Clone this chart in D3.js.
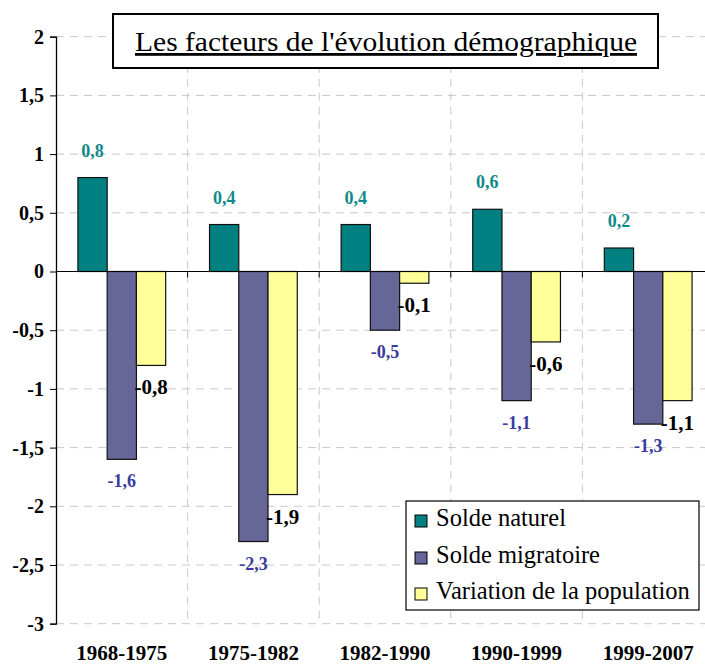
<!DOCTYPE html>
<html>
<head>
<meta charset="utf-8">
<script src="https://cdn.jsdelivr.net/npm/d3@7"></script>
<style>
  body { margin: 0; background: #fff; }
  svg { display: block; }
  svg text { font-family: "Liberation Serif", "Times New Roman", serif; }
</style>
</head>
<body>
<svg width="705" height="666"></svg>
<script>
const periods = ['1968-1975', '1975-1982', '1982-1990', '1990-1999', '1999-2007'];
const seriesNames = ['Solde naturel', 'Solde migratoire', 'Variation de la population'];
const soldeNaturel = [0.8, 0.4, 0.4, 0.53, 0.2];
const soldeMigratoire = [-1.6, -2.3, -0.5, -1.1, -1.3];
const variationPop = [-0.8, -1.9, -0.1, -0.6, -1.1];
// labels as printed on the chart
const labelsNaturel = ['0,8', '0,4', '0,4', '0,6', '0,2'];
const labelsMigratoire = ['-1,6', '-2,3', '-0,5', '-1,1', '-1,3'];
const labelsVariation = ['-0,8', '-1,9', '-0,1', '-0,6', '-1,1'];
const yTicks = [2, 1.5, 1, 0.5, 0, -0.5, -1, -1.5, -2, -2.5, -3];
const title = "Les facteurs de l'évolution démographique";

const colors = ['#008080', '#666699', '#FFFF99'];
const labelColors = ['#0f8a8a', '#3a3aa0', '#000'];
const serif = '"Liberation Serif", "Times New Roman", serif';

const svg = d3.select('svg');

const x = d3.scaleBand().domain(periods).range([56, 714]);
const y = d3.scaleLinear().domain([-3, 2]).range([623.7, 36.7]);
const barW = x.bandwidth() / 4.5;
const inner = d3.scaleBand().domain([0, 1, 2])
  .range([barW * 0.75, barW * 3.75]);

// horizontal grid
svg.append('g')
  .selectAll('line')
  .data(yTicks.filter(d => d !== 0))
  .join('line')
  .attr('x1', 56).attr('x2', 705)
  .attr('y1', d => y(d)).attr('y2', d => y(d))
  .attr('stroke', '#c8c8c8').attr('stroke-dasharray', '8,6');

// vertical grid at category boundaries
svg.append('g')
  .selectAll('line')
  .data(periods.slice(1))
  .join('line')
  .attr('x1', d => x(d)).attr('x2', d => x(d))
  .attr('y1', y(2)).attr('y2', y(-3))
  .attr('stroke', '#c8c8c8').attr('stroke-dasharray', '8,6');

// y axis
const yAxis = svg.append('g')
  .attr('transform', 'translate(56,0)')
  .call(d3.axisLeft(y).tickValues(yTicks).tickSize(6).tickPadding(6)
    .tickFormat(d => String(d).replace('.', ',')));
yAxis.select('.domain').attr('stroke', '#000').attr('stroke-width', 1.3);
yAxis.selectAll('.tick line').attr('stroke', '#000');
yAxis.selectAll('.tick text')
  .attr('font-family', serif)
  .attr('font-weight', 'bold').attr('font-size', 20).attr('fill', '#000');

// bars
const series = [soldeNaturel, soldeMigratoire, variationPop];
const labels = [labelsNaturel, labelsMigratoire, labelsVariation];
const barData = [];
series.forEach((vals, s) => {
  vals.forEach((v, i) => barData.push({ s, period: periods[i], v, label: labels[s][i] }));
});

svg.append('g')
  .selectAll('rect')
  .data(barData)
  .join('rect')
  .attr('x', d => x(d.period) + inner(d.s))
  .attr('width', barW)
  .attr('y', d => y(Math.max(0, d.v)))
  .attr('height', d => Math.abs(y(d.v) - y(0)))
  .attr('fill', d => colors[d.s])
  .attr('stroke', '#111').attr('stroke-width', 1.2);

// zero line + ticks at category boundaries
svg.append('line')
  .attr('x1', 56).attr('x2', 705)
  .attr('y1', y(0)).attr('y2', y(0))
  .attr('stroke', '#000').attr('stroke-width', 1.2);
svg.append('g')
  .selectAll('line')
  .data(periods.slice(1))
  .join('line')
  .attr('x1', d => x(d)).attr('x2', d => x(d))
  .attr('y1', y(0)).attr('y2', y(0) + 6)
  .attr('stroke', '#000');

// value labels
svg.append('g')
  .selectAll('text')
  .data(barData)
  .join('text')
  .attr('x', d => {
    const left = x(d.period) + inner(d.s);
    return d.s === 2 ? left - 2 : left + barW / 2;
  })
  .attr('y', d => {
    if (d.s === 0) return y(d.v) - 21;
    if (d.s === 1) return y(d.v) + 28;
    return y(d.v) + 29;
  })
  .attr('text-anchor', d => d.s === 2 ? 'start' : 'middle')
  .attr('font-family', serif)
  .attr('font-weight', 'bold')
  .attr('font-size', d => d.s === 2 ? 21 : 18)
  .attr('fill', d => labelColors[d.s])
  .text(d => d.label);

// x labels
svg.append('g')
  .selectAll('text')
  .data(periods)
  .join('text')
  .attr('x', d => x(d) + x.bandwidth() / 2)
  .attr('y', 660)
  .attr('text-anchor', 'middle')
  .attr('font-family', serif)
  .attr('font-weight', 'bold').attr('font-size', 21)
  .text(d => d);

// title box
svg.append('rect')
  .attr('x', 113).attr('y', 14).attr('width', 545).attr('height', 54)
  .attr('fill', '#fff').attr('stroke', '#000').attr('stroke-width', 2);
svg.append('text')
  .attr('x', 386).attr('y', 51)
  .attr('text-anchor', 'middle')
  .attr('font-family', serif)
  .attr('font-size', 28)
  .attr('text-decoration', 'underline')
  .attr('textLength', 502)
  .attr('lengthAdjust', 'spacingAndGlyphs')
  .text(title);

// legend
const legend = svg.append('g');
legend.append('rect')
  .attr('x', 406).attr('y', 501).attr('width', 293).attr('height', 109)
  .attr('fill', '#fff').attr('stroke', '#000').attr('stroke-width', 1.2);
const rowY = [526, 563, 599];
const items = legend.selectAll('g.item')
  .data(seriesNames)
  .join('g').attr('class', 'item');
items.append('rect')
  .attr('x', 415).attr('y', (d, i) => rowY[i] - 11)
  .attr('width', 12).attr('height', 12)
  .attr('fill', (d, i) => colors[i]).attr('stroke', '#000');
items.append('text')
  .attr('x', 436).attr('y', (d, i) => rowY[i])
  .attr('font-family', serif)
  .attr('font-size', 24.5)
  .text(d => d);
</script>
</body>
</html>
